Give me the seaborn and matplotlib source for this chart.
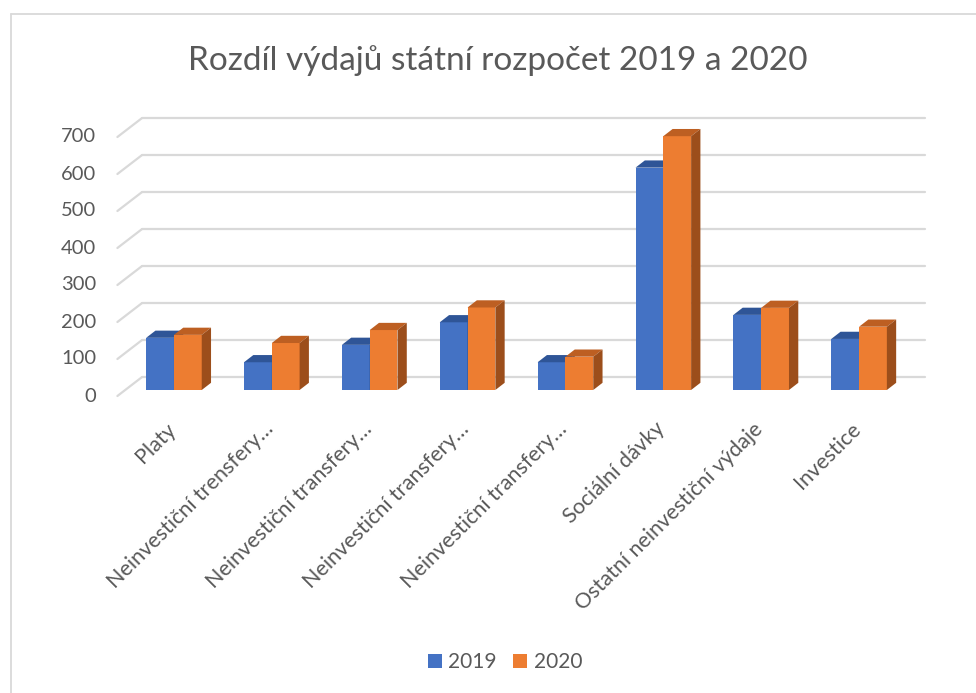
import numpy as np
import pandas as pd
import matplotlib
matplotlib.use("Agg")
import matplotlib.pyplot as plt
from matplotlib.patches import Polygon, Patch
import seaborn as sns

# ---------------------------------------------------------------
# data
# ---------------------------------------------------------------
kategorie = ["Platy", "Neinvestiční trensfery…", "Neinvestiční transfery…",
             "Neinvestiční transfery…", "Neinvestiční transfery…",
             "Sociální dávky", "Ostatní neinvestiční výdaje", "Investice"]
roky = ["2019", "2020"]
hodnoty_2019 = [141, 75, 122, 183, 75, 601, 203, 138]
hodnoty_2020 = [149, 127, 162, 223, 90, 686, 222, 171]
y_ticks = [0, 100, 200, 300, 400, 500, 600, 700]

df = pd.DataFrame({
    "pozice": list(range(len(kategorie))) * 2,
    "hodnota": hodnoty_2019 + hodnoty_2020,
    "rok": [roky[0]] * len(kategorie) + [roky[1]] * len(kategorie),
})

# ---------------------------------------------------------------
# style
# ---------------------------------------------------------------
sns.set_style("white")
plt.rcParams["font.family"] = ["Lato", "DejaVu Sans"]
TEXT = "#595959"
GRID = "#D9D9D9"
front_col = ["#4472C4", "#ED7D31"]
top_col = ["#2F5597", "#BD5F22"]
side_col = ["#2B4D8A", "#9C4E1B"]

W, H = 976, 693
fig = plt.figure(figsize=(W / 100, H / 100), dpi=100)

# chart border (only top/left visible in the crop)
fig.add_artist(plt.Line2D([10.5 / W, 10.5 / W], [0, 1 - 14 / H], color=GRID, lw=1.3))
fig.add_artist(plt.Line2D([10.5 / W, 1], [1 - 14 / H, 1 - 14 / H], color=GRID, lw=1.3))

# axes = plane of the bar front faces
ax = fig.add_axes([125 / W, (H - 390) / H, 783 / W, 259 / H])

px_x = 783 / 8.0      # pixels per x unit
px_y = 259 / 700.0    # pixels per y unit

def dx(p):
    return p / px_x

def dy(p):
    return p / px_y

# back wall gridlines + left diagonals + y tick labels
for v in y_ticks:
    ax.plot([-0.5 + dx(16.7), 7.5 + dx(16.7)], [v + dy(12.7), v + dy(12.7)],
            color=GRID, lw=1.6, clip_on=False, zorder=0)
    ax.plot([-0.5 - dx(7.6), -0.5 + dx(16.7)], [v - dy(6), v + dy(12.7)],
            color=GRID, lw=1.6, clip_on=False, zorder=0)
    ax.text(-0.5 - dx(29), v - dy(6), str(v), ha="right", va="center",
            fontsize=14.5, color=TEXT, clip_on=False)

# bars
sns.barplot(data=df, x="pozice", y="hodnota", hue="rok", hue_order=roky,
            palette=front_col, width=0.568, saturation=1, legend=False,
            linewidth=0, ax=ax)
ax.set_xlim(-0.5, 7.5)
ax.set_ylim(0, 700)
ax.axis("off")

# 3D faces (top and right side) for every bar
hx, hy = dx(9.3), dy(7.2)
for i, cont in enumerate(ax.containers):
    for bar in cont:
        x0, w, h = bar.get_x(), bar.get_width(), bar.get_height()
        bar.set_zorder(2 + i)
        top = Polygon([(x0, h), (x0 + w, h), (x0 + w + hx, h + hy), (x0 + hx, h + hy)],
                      closed=True, facecolor=top_col[i], edgecolor="none",
                      zorder=2 + i, clip_on=False)
        side = Polygon([(x0 + w, 0), (x0 + w + hx, hy), (x0 + w + hx, h + hy), (x0 + w, h)],
                       closed=True, facecolor=side_col[i], edgecolor="none",
                       zorder=2 + i, clip_on=False)
        ax.add_patch(top)
        ax.add_patch(side)

# category labels (rotated, right end at the category)
for i, lab in enumerate(kategorie):
    ax.text(i + dx(3), -dy(40), lab, rotation=45, rotation_mode="anchor",
            ha="right", va="baseline", fontsize=15.5, color=TEXT, clip_on=False)

# title
fig.text(498 / W, 1 - 70 / H, "Rozdíl výdajů státní rozpočet 2019 a 2020",
         ha="center", va="baseline", fontsize=24, color=TEXT)

# legend
handles = [Patch(facecolor=front_col[k], edgecolor="none", label=roky[k]) for k in range(2)]
fig.legend(handles=handles, loc="center", bbox_to_anchor=(505 / W, 1 - 662 / H),
           ncol=2, frameon=False, fontsize=15, labelcolor=TEXT,
           handlelength=0.67, handleheight=0.67, handletextpad=0.3,
           columnspacing=0.8)

fig.savefig("out.png", dpi=100, facecolor="white")
